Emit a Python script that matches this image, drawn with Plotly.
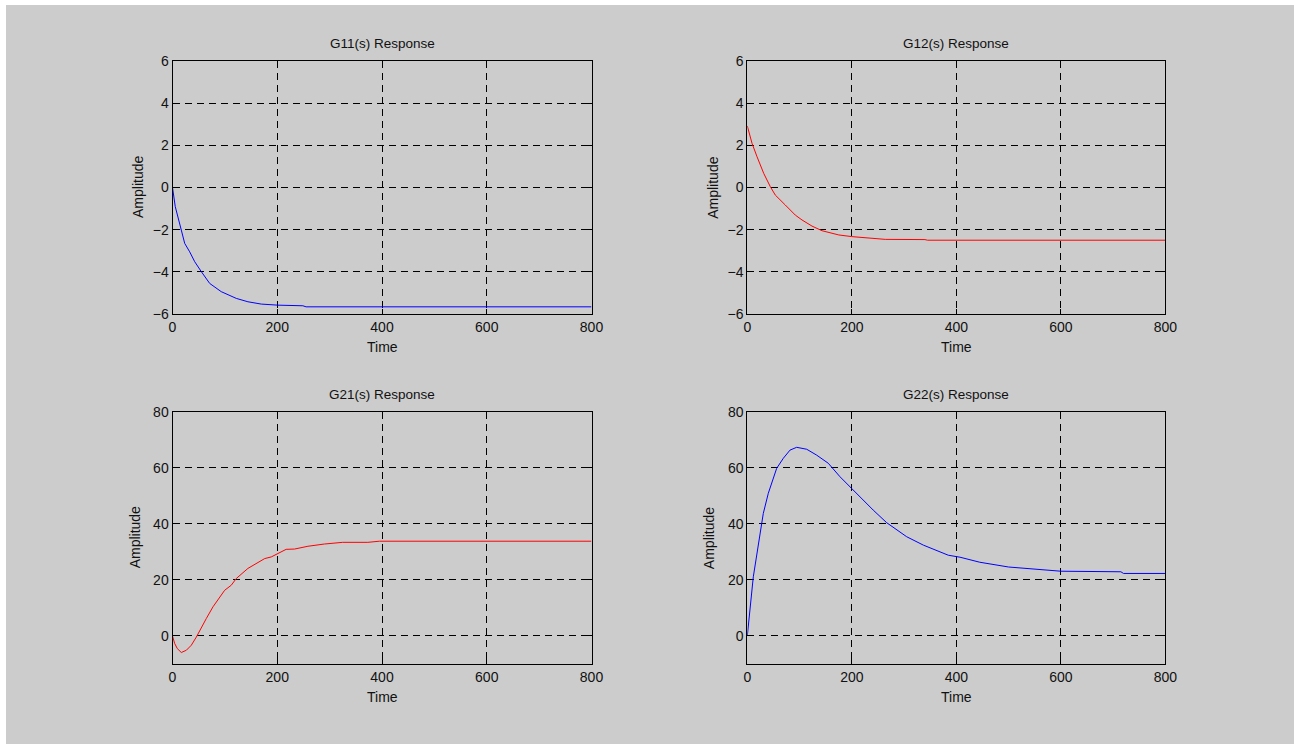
import plotly.graph_objects as go

# Step responses of the 2x2 process model (time, amplitude)
g11_t = [0, 5.3, 16.8, 23.3, 32.8, 42.4, 55, 71, 93, 121.8, 144, 169.5, 201, 249, 255, 800]
g11_y = [0.0, -0.91, -2.02, -2.65, -3.05, -3.52, -3.99, -4.55, -4.94, -5.26, -5.42, -5.53, -5.58, -5.61, -5.66, -5.66]

g12_t = [0, 9, 18.6, 31.4, 44, 53.6, 72.7, 91.9, 104.7, 123.8, 143, 175, 200, 232, 257.8, 264, 340, 345, 800]
g12_y = [2.92, 2.1, 1.46, 0.67, 0.04, -0.36, -0.83, -1.31, -1.54, -1.83, -2.05, -2.25, -2.33, -2.38, -2.43, -2.46, -2.47, -2.5, -2.5]

g21_t = [0, 4.2, 9.2, 16.8, 26.4, 35.9, 45.5, 55, 64.5, 77.3, 90, 99.6, 112.2, 121.8, 144, 163, 176,
         188.6, 201, 217, 233, 258.6, 290, 325, 373, 395, 800]
g21_y = [0.0, -2.7, -4.5, -5.9, -5.1, -3.3, -0.4, 3.2, 6.2, 10.4, 13.7, 16.3, 18.1, 20.5, 24.1, 26.1, 27.6,
         28.2, 29.4, 30.9, 31.0, 32.0, 32.8, 33.4, 33.4, 33.8, 33.8]

g22_t = [0, 11.5, 30.6, 40.2, 56.2, 69, 81.7, 94.5, 113.7, 132.8, 155, 177.4, 199.8, 215.7, 241, 266.8,
         305, 337, 368.8, 384.7, 407, 445, 500, 550, 600, 715, 720, 800]
g22_y = [0.0, 21.1, 43.7, 50.9, 59.8, 63.4, 66.3, 67.3, 66.6, 64.5, 61.6, 56.8, 52.6, 49.6, 44.9, 40.4,
         35.4, 32.4, 30.0, 28.8, 28.1, 26.3, 24.6, 23.8, 23.1, 22.9, 22.3, 22.3]

titles = ["G11(s) Response", "G12(s) Response", "G21(s) Response", "G22(s) Response"]
x_ticks = [0, 200, 400, 600, 800]
y_ticks_top = [-6, -4, -2, 0, 2, 4, 6]
y_ticks_bottom = [0, 20, 40, 60, 80]

W, H = 1294, 744
FONT = "Liberation Sans, Arial, Helvetica, sans-serif"

# panel rectangles in pixels: (left, right, top, bottom)
panels = [
    (172.5, 591.5, 61, 314),
    (747.3, 1165.3, 61, 314),
    (172.5, 591.5, 411.7, 664),
    (747.3, 1165.3, 411.7, 664),
]
series = [
    (g11_t, g11_y, "#0000ff", [-6, 6], y_ticks_top),
    (g12_t, g12_y, "#ff0000", [-6, 6], y_ticks_top),
    (g21_t, g21_y, "#ff0000", [-10, 80], y_ticks_bottom),
    (g22_t, g22_y, "#0000ff", [-10, 80], y_ticks_bottom),
]

fig = go.Figure()
annotations = []
for i, ((l, r, t, b), (xs, ys, col, yr, yt)) in enumerate(zip(panels, series)):
    n = "" if i == 0 else str(i + 1)
    fig.add_trace(go.Scatter(x=xs, y=ys, mode="lines", line=dict(color=col, width=1),
                             xaxis="x" + n, yaxis="y" + n, showlegend=False))
    axis_common = dict(
        showline=True, linecolor="black", linewidth=1, mirror="ticks",
        ticks="inside", ticklen=5, tickcolor="black", tickwidth=1,
        showgrid=True, gridcolor="black", gridwidth=1, griddash="7px,5px",
        zeroline=False, tickfont=dict(family=FONT, size=14, color="#111"),
        fixedrange=True, automargin=False,
    )
    fig.update_layout({
        "xaxis" + n: dict(domain=[l / W, r / W], range=[0, 800], tickvals=x_ticks,
                          anchor="y" + n, **axis_common),
        "yaxis" + n: dict(domain=[1 - b / H, 1 - t / H], range=yr, tickvals=yt,
                          anchor="x" + n, **axis_common),
    })
    cx = (l + r) / 2 / W
    annotations.append(dict(text=titles[i], x=cx, y=1 - (t - 17) / H, xref="paper", yref="paper",
                            showarrow=False, xanchor="center", yanchor="middle",
                            font=dict(family=FONT, size=13.5, color="#111")))
    annotations.append(dict(text="Time", x=cx, y=1 - (b + 33) / H, xref="paper", yref="paper",
                            showarrow=False, xanchor="center", yanchor="middle",
                            font=dict(family=FONT, size=14, color="#111")))
    ax_x = l - (34 if yr[1] == 6 else 38)
    annotations.append(dict(text="Amplitude", x=ax_x / W, y=1 - (t + b) / 2 / H, xref="paper",
                            yref="paper", showarrow=False, textangle=-90, xanchor="center",
                            yanchor="middle", font=dict(family=FONT, size=14, color="#111")))

fig.update_layout(
    width=W, height=H, margin=dict(l=0, r=0, t=0, b=0, pad=0, autoexpand=False),
    paper_bgcolor="white", plot_bgcolor="white",
    annotations=annotations,
    shapes=[dict(type="rect", xref="paper", yref="paper", x0=6 / W, x1=1, y0=0, y1=1 - 5 / H,
                 fillcolor="#cccccc", line=dict(width=0), layer="below")],
)

fig.write_html("out.html", config={"displayModeBar": False},
               post_script="document.body.style.margin='0px';")
